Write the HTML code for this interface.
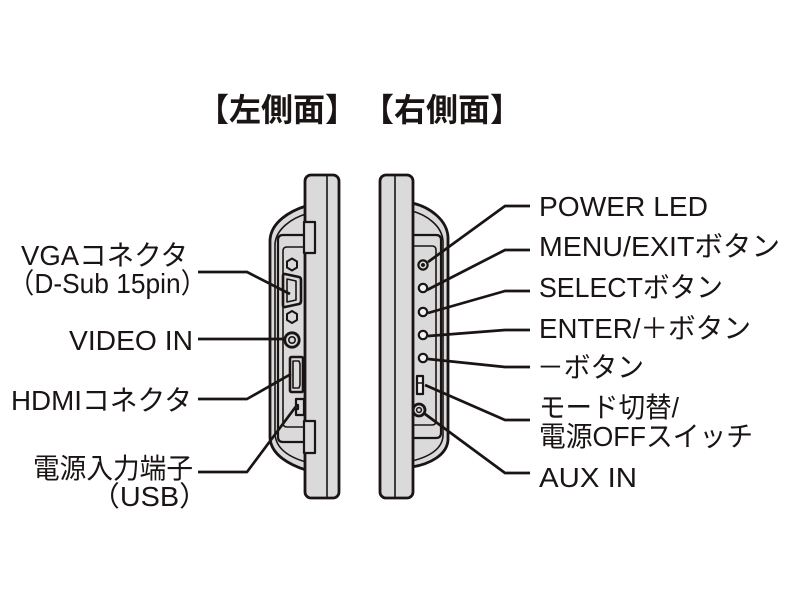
<!DOCTYPE html>
<html>
<head>
<meta charset="utf-8">
<style>
  html,body{margin:0;padding:0;background:#fff;}
  svg{display:block;}
  text{font-family:"Liberation Sans","Noto Sans CJK JP",sans-serif;fill:#1a1514;}
</style>
</head>
<body>
<svg width="800" height="600" viewBox="0 0 800 600" xmlns="http://www.w3.org/2000/svg">
  <rect width="800" height="600" fill="#fff"/>

  <!-- Titles -->
  <text x="197" y="121" font-size="32" font-weight="bold" textLength="160" lengthAdjust="spacingAndGlyphs">【左側面】</text>
  <text x="362" y="121" font-size="32" font-weight="bold" textLength="160" lengthAdjust="spacingAndGlyphs">【右側面】</text>

  <g stroke="#1a1514" stroke-linejoin="round" stroke-linecap="round">
    <!-- ===== LEFT DEVICE ===== -->
    <path d="M306,206 C290,211 271,222 270,240 L270,438 C271,455 290,465 306,470 Z" fill="#dadada" stroke-width="2.8"/>
    <path d="M306,214 C292,218 276,229 275,244 L275,434 C276,450 292,458 306,462" fill="none" stroke-width="1.6"/>
    <path d="M306,235 L283,235 Q278,235 278,240 L278,437 Q278,442 283,442 L306,442" fill="#dadada" stroke-width="2.2"/>
    <path d="M306,247 L287,247 Q283,247 283,251 L283,423 Q283,427 287,427 L306,427" fill="none" stroke-width="1.6"/>

    <!-- VGA -->
    <polygon points="292,258.5 297,261.5 297,267.5 292,270.5 287,267.5 287,261.5" fill="#dadada" stroke-width="2"/>
    <path d="M285,274 L299,277 Q301,277.5 301,280 L301,301 Q301,303.5 299,304 L285,307 Q283,307.5 283,305 L283,276 Q283,273.5 285,274 Z" fill="#dadada" stroke-width="2.6"/>
    <path d="M287,279 L296,281 L296,300 L287,302 Z" fill="none" stroke-width="1.6"/>
    <polygon points="292,311 297,314 297,320 292,323 287,320 287,314" fill="#dadada" stroke-width="2"/>

    <!-- Video -->
    <circle cx="292" cy="340" r="7.2" fill="#dadada" stroke-width="2.8"/>
    <circle cx="292" cy="340" r="3.2" fill="#dadada" stroke-width="1.6"/>

    <!-- HDMI -->
    <rect x="290" y="357" width="13" height="35" rx="1.5" fill="#dadada" stroke-width="2.6"/>
    <path d="M293,361 L299,361 L300,364 L300,385 L299,388 L293,388 Z" fill="none" stroke-width="1.6"/>

    <!-- USB -->
    <path d="M296,399 L304,399 L304,415 L296,415 L296,409 L298,409 L298,405 L296,405 Z" fill="#dadada" stroke-width="2.2"/>

    <!-- Panel -->
    <rect x="305" y="175" width="34" height="323" rx="6" fill="#dadada" stroke-width="2.8"/>
    <line x1="327" y1="176" x2="327" y2="497" stroke-width="1.6"/>

    <!-- Tabs -->
    <rect x="304" y="222" width="11" height="31" fill="#dadada" stroke-width="2.2"/>
    <rect x="304" y="421" width="11" height="32" fill="#dadada" stroke-width="2.2"/>

    <!-- ===== RIGHT DEVICE ===== -->
    <path d="M412,203 C430,207 447,220 448,237 L448,440 C447,455 430,464 412,467 Z" fill="#dadada" stroke-width="2.8"/>
    <path d="M412,211 C427,215 442,226 443,241 L443,436 C442,450 428,457 412,461" fill="none" stroke-width="1.6"/>
    <path d="M412,235 L436,235 Q441,235 441,240 L441,433 Q441,438 436,438 L412,438" fill="#dadada" stroke-width="2.2"/>
    <path d="M412,246 L432,246 Q436,246 436,250 L436,421 Q436,425 432,425 L412,425" fill="none" stroke-width="1.6"/>

    <!-- LEDs / buttons -->
    <circle cx="423" cy="265" r="4.6" fill="#dadada" stroke-width="2.2"/>
    <circle cx="423" cy="265" r="1.8" fill="#1a1514" stroke-width="0.5"/>
    <circle cx="423" cy="288" r="4.2" fill="#f2f2f2" stroke-width="2.2"/>
    <circle cx="423" cy="312" r="4.2" fill="#f2f2f2" stroke-width="2.2"/>
    <circle cx="423" cy="335" r="4.2" fill="#f2f2f2" stroke-width="2.2"/>
    <circle cx="423" cy="358" r="4.2" fill="#f2f2f2" stroke-width="2.2"/>

    <!-- Switch -->
    <rect x="417" y="376" width="6" height="18" fill="#f2f2f2" stroke-width="2.2"/>
    <line x1="417" y1="383" x2="423" y2="383" stroke-width="1.6"/>

    <!-- AUX -->
    <circle cx="419" cy="410" r="6" fill="#dadada" stroke-width="2.8"/>
    <circle cx="419" cy="410" r="2.4" fill="#dadada" stroke-width="1.5"/>

    <!-- Panel -->
    <rect x="380" y="175" width="33" height="323" rx="6" fill="#dadada" stroke-width="2.8"/>
    <line x1="395" y1="176" x2="395" y2="497" stroke-width="1.6"/>

    <!-- ===== LEADERS ===== -->
    <g fill="none" stroke-width="2.7" stroke-linecap="butt">
      <polyline points="198,272 247,272 290,294"/>
      <polyline points="198,339 285,339"/>
      <polyline points="198,399 247,399 291,374"/>
      <polyline points="198,472 247,472 297,405"/>

      <polyline points="530,206 505,206 428,262"/>
      <polyline points="530,250 505,250 427,290"/>
      <polyline points="530,291 505,291 428,313"/>
      <polyline points="530,330 505,330 428,336"/>
      <polyline points="530,367 505,367 428,359"/>
      <polyline points="530,420 505,420 425,385"/>
      <polyline points="530,473 505,473 425,414"/>
    </g>
  </g>

  <!-- Left labels -->
  <text x="21" y="265" font-size="28" textLength="167" lengthAdjust="spacingAndGlyphs">VGAコネクタ</text>
  <text x="8" y="293" font-size="28" textLength="199" lengthAdjust="spacingAndGlyphs">（D-Sub 15pin）</text>
  <text x="69" y="350" font-size="28" textLength="124" lengthAdjust="spacingAndGlyphs">VIDEO IN</text>
  <text x="11" y="410" font-size="28" textLength="181" lengthAdjust="spacingAndGlyphs">HDMIコネクタ</text>
  <text x="33" y="478" font-size="28" textLength="160" lengthAdjust="spacingAndGlyphs">電源入力端子</text>
  <text x="91" y="506" font-size="28" textLength="117" lengthAdjust="spacingAndGlyphs">（USB）</text>

  <!-- Right labels -->
  <text x="539" y="216" font-size="28" textLength="169" lengthAdjust="spacingAndGlyphs">POWER LED</text>
  <text x="539" y="256" font-size="28" textLength="241" lengthAdjust="spacingAndGlyphs">MENU/EXITボタン</text>
  <text x="539" y="297" font-size="28" textLength="184" lengthAdjust="spacingAndGlyphs">SELECTボタン</text>
  <text x="539" y="338" font-size="28" textLength="212" lengthAdjust="spacingAndGlyphs">ENTER/＋ボタン</text>
  <text x="537" y="377" font-size="28" textLength="107" lengthAdjust="spacingAndGlyphs">－ボタン</text>
  <text x="539" y="417" font-size="28" textLength="140" lengthAdjust="spacingAndGlyphs">モード切替/</text>
  <text x="539" y="446" font-size="28" textLength="214" lengthAdjust="spacingAndGlyphs">電源OFFスイッチ</text>
  <text x="539" y="487" font-size="28" textLength="98" lengthAdjust="spacingAndGlyphs">AUX IN</text>
</svg>
</body>
</html>
